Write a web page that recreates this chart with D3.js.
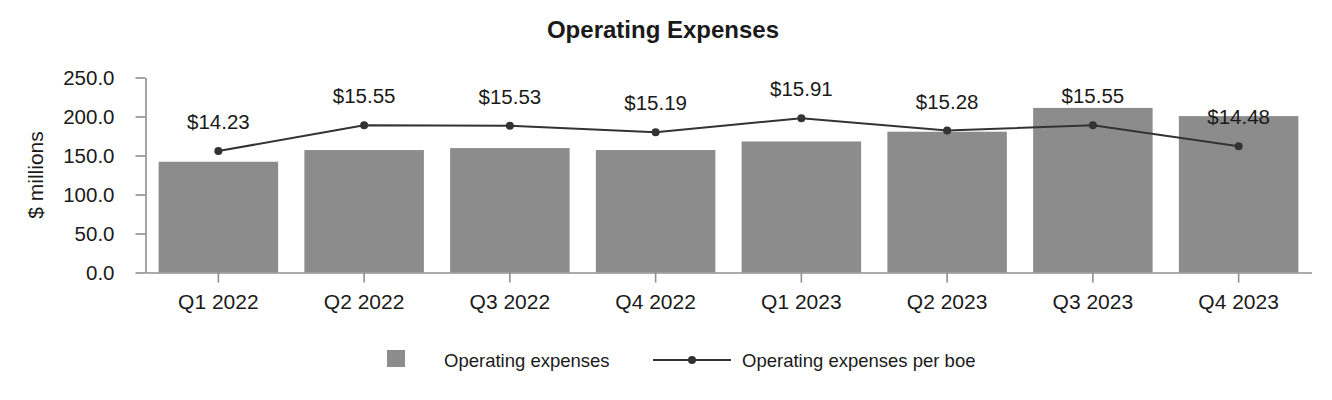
<!DOCTYPE html>
<html>
<head>
<meta charset="utf-8">
<script src="https://cdn.jsdelivr.net/npm/d3@7"></script>
<style>
  body { margin: 0; background: #fff; }
  svg text { font-family: "Liberation Sans", Arial, sans-serif; fill: #1a1a1a; }
</style>
</head>
<body>
<div id="container"></div>
<script>
// data
let quarters = ["Q1 2022", "Q2 2022", "Q3 2022", "Q4 2022", "Q1 2023", "Q2 2023", "Q3 2023", "Q4 2023"];
let opex = [142, 157, 159.5, 157, 168, 180.5, 211, 200.5];
let perBoe = [14.23, 15.55, 15.53, 15.19, 15.91, 15.28, 15.55, 14.48];
let yTicks = [0, 50, 100, 150, 200, 250];

let width = 1332, height = 400;
let svg = d3.select("#container")
    .append("svg")
    .attr("width", width)
    .attr("height", height);

let plotLeft = 145.5, plotRight = 1311.5, plotTop = 77.5, plotBottom = 272.5;

// scales
let xScale = d3.scaleBand()
    .domain(quarters)
    .range([plotLeft, plotRight])
    .paddingInner(0.18)
    .paddingOuter(0.09);

let yScale = d3.scaleLinear()
    .domain([0, 250])
    .range([plotBottom, plotTop]);

// hidden second axis for the per boe line
let y2Scale = d3.scaleLinear()
    .domain([8, 18])
    .range([plotBottom, plotTop]);

// title
svg.append("text")
    .attr("x", 663)
    .attr("y", 38)
    .attr("text-anchor", "middle")
    .style("font-size", "24px")
    .style("font-weight", "bold")
    .text("Operating Expenses");

// bars
svg.selectAll("rect.bar")
    .data(opex)
    .enter()
    .append("rect")
    .attr("class", "bar")
    .attr("x", (d, i) => xScale(quarters[i]))
    .attr("y", d => yScale(d))
    .attr("width", xScale.bandwidth())
    .attr("height", d => yScale(0) - yScale(d))
    .attr("fill", "#8c8c8c");

// axes
let yAxis = d3.axisLeft(yScale)
    .tickValues(yTicks)
    .tickFormat(d3.format(".1f"))
    .tickSize(10)
    .tickSizeOuter(0)
    .tickPadding(21);

let yg = svg.append("g")
    .attr("transform", "translate(" + plotLeft + ",0)")
    .call(yAxis);

let xAxis = d3.axisBottom(xScale)
    .tickSize(10)
    .tickSizeOuter(0)
    .tickPadding(12);

let xg = svg.append("g")
    .attr("transform", "translate(0," + plotBottom + ")")
    .call(xAxis);

[yg, xg].forEach(g => {
    g.select(".domain").attr("stroke", "#8f8f8f").attr("stroke-width", 1.6);
    g.selectAll(".tick line").attr("stroke", "#8f8f8f").attr("stroke-width", 1.6);
    g.selectAll(".tick text")
        .style("font-size", "20.5px")
        .style("font-family", "'Liberation Sans', Arial, sans-serif")
        .attr("fill", "#1a1a1a");
});
xg.selectAll(".tick text").style("font-size", "21px");

// y axis title
svg.append("text")
    .attr("transform", "translate(43,175) rotate(-90)")
    .attr("text-anchor", "middle")
    .style("font-size", "21px")
    .text("$ millions");

// line
let cx = (d, i) => xScale(quarters[i]) + xScale.bandwidth() / 2;
let line = d3.line()
    .x(cx)
    .y(d => y2Scale(d));

svg.append("path")
    .datum(perBoe)
    .attr("d", line)
    .attr("fill", "none")
    .attr("stroke", "#333")
    .attr("stroke-width", 2);

svg.selectAll("circle.pt")
    .data(perBoe)
    .enter()
    .append("circle")
    .attr("class", "pt")
    .attr("cx", cx)
    .attr("cy", d => y2Scale(d))
    .attr("r", 4)
    .attr("fill", "#333");

svg.selectAll("text.lbl")
    .data(perBoe)
    .enter()
    .append("text")
    .attr("class", "lbl")
    .attr("x", cx)
    .attr("y", d => y2Scale(d) - 22)
    .attr("text-anchor", "middle")
    .style("font-size", "20.5px")
    .text(d => "$" + d3.format(".2f")(d));

// legend
let lg = svg.append("g");
lg.append("rect")
    .attr("x", 387)
    .attr("y", 350)
    .attr("width", 18)
    .attr("height", 17)
    .attr("fill", "#8c8c8c");
lg.append("text")
    .attr("x", 444)
    .attr("y", 366.5)
    .style("font-size", "18.5px")
    .text("Operating expenses");
lg.append("line")
    .attr("x1", 653).attr("x2", 731)
    .attr("y1", 360).attr("y2", 360)
    .attr("stroke", "#333")
    .attr("stroke-width", 2);
lg.append("circle")
    .attr("cx", 692).attr("cy", 360).attr("r", 4)
    .attr("fill", "#333");
lg.append("text")
    .attr("x", 742)
    .attr("y", 366.5)
    .style("font-size", "18.5px")
    .text("Operating expenses per boe");
</script>
</body>
</html>
